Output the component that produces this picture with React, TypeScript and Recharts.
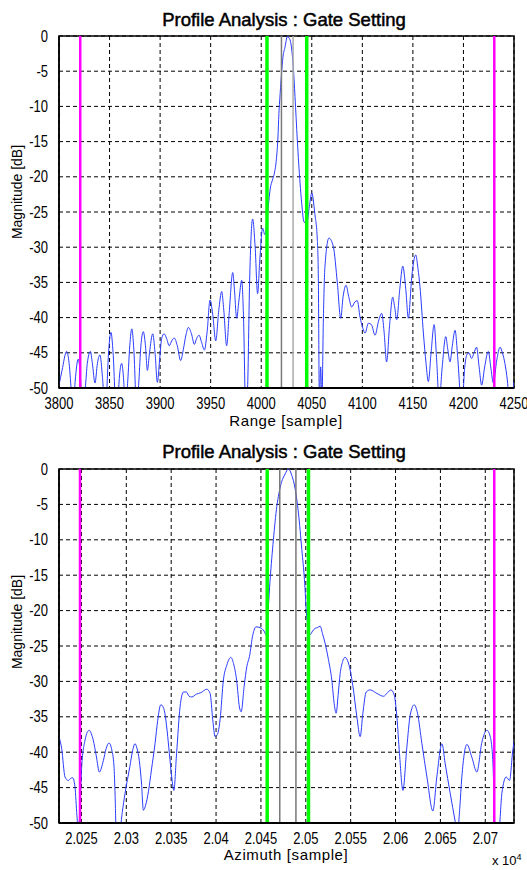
import { LineChart, Line, XAxis, YAxis, CartesianGrid, ReferenceLine, ReferenceArea } from 'recharts'

// range profile (samples, dB)
const rangeX = [
  3800, 3803, 3807.6, 3810, 3812.5, 3814, 3816, 3819, 3821, 3823, 3826, 3828, 3831, 3833, 3835.6, 3838, 3840.5, 3843,
  3845.5, 3847, 3849, 3851.4, 3853.5, 3856.4, 3858.5, 3860, 3862, 3864, 3865.5, 3868, 3870, 3872, 3874, 3876.8, 3879,
  3881, 3883.4, 3885.5, 3887.4, 3889.5, 3892.7, 3895, 3897.3, 3899.5, 3901.5, 3903.9, 3906.5, 3909, 3911.5, 3914, 3917,
  3920.3, 3923, 3925.5, 3928, 3931, 3933.9, 3936, 3938.5, 3941, 3943.8, 3946.5, 3949.4, 3952, 3955, 3958, 3960.9, 3963,
  3965.8, 3968.5, 3971.8, 3973.5, 3975.7, 3978, 3980.7, 3982.5, 3984.6, 3986.5, 3988.5, 3991.5, 3994, 3996.4, 3998.5,
  4001.4, 4003.5, 4005.5, 4007, 4009, 4011, 4013, 4015, 4016.5, 4017.5, 4018.8, 4020, 4021.5, 4023.5, 4025.8, 4027.7,
  4030, 4031.7, 4033.4, 4035.7, 4038.4, 4040, 4042.3, 4045, 4047.6, 4050, 4053, 4055.5, 4056.5, 4057.5, 4058.8, 4060,
  4061.5, 4063, 4067, 4071.3, 4075.3, 4078.6, 4081, 4083.9, 4086.5, 4089.5, 4092.5, 4095, 4097.7, 4100.5, 4102.7, 4106,
  4109, 4112.6, 4116, 4119.2, 4121.5, 4124, 4127, 4130, 4132, 4134, 4137, 4140, 4143, 4145.5, 4149, 4152.8, 4155, 4157,
  4160.4, 4163, 4165.3, 4168, 4171, 4173.5, 4176, 4179, 4182.5, 4184.5, 4186.7, 4189, 4191.7, 4194.5, 4197, 4199, 4201,
  4203.3, 4205.5, 4208, 4210.5, 4213, 4215.5, 4218, 4221, 4224.6, 4227, 4229.6, 4233, 4236.2, 4238.5, 4241, 4243.5,
  4245.4, 4248, 4250,
]
const rangeDb = [
  -49.6, -47.5, -44.8, -46.5, -51, -53, -49, -45.9, -48, -53, -50, -46.5, -44.8, -46.5, -49.3, -46.5, -45.3, -48.5,
  -53, -51, -45, -42.1, -45, -53, -51, -48, -46.5, -49, -53, -49, -44, -41.6, -44.5, -53, -49,
  -44, -42, -44, -47.5, -45, -42.3, -45, -49.2, -46, -43, -42.3, -43, -44, -43.3, -42.9, -44,
  -46.1, -44.5, -42.5, -41.4, -42.3, -43.8, -43, -42.5, -43.5, -44.6, -42, -37.5, -39.5, -43.3, -39, -36.3, -39,
  -44, -39, -33.6, -36, -40.1, -37.5, -34.7, -40, -53, -50, -35, -26, -30, -36.6, -32,
  -27.3, -28.2, -26.5, -24.2, -21.6, -20.5, -19.5, -17.5, -14.5, -11, -8, -5.5, -3, -1.6, -0.1, -0.3,
  -1.7, -4.4, -8.6, -14.8, -20.9, -23.7, -26.4, -26.6, -24.2, -22.3, -25.2, -29, -34.4, -52, -47, -52,
  -40, -32.8, -28.7, -29.9, -35.1, -40.1, -37, -35.4, -37, -38.5, -37.8, -37.6, -39.9, -41.5, -42.2, -40.8,
  -41, -42.5, -40.5, -39.4, -42, -46.3, -41, -37.1, -38.5, -40.3, -36, -32.7, -36, -40.1, -34, -31.1, -33, -35.6,
  -42.2, -46.5, -49.1, -45, -41, -46, -52, -47, -42.7, -44.5, -46.3, -44, -41.8, -46, -51, -52, -47.5,
  -45.3, -45, -45.8, -45, -44.2, -47, -49.6, -47, -44.8, -47, -49.3, -46, -44.2, -45, -46.5, -49,
  -52, -52, -49.1,
]
const rangeTicks = [3800, 3850, 3900, 3950, 4000, 4050, 4100, 4150, 4200, 4250]
const rangeMagenta = [3821, 4230.5]
const rangeGreen = [4005.7, 4045]
const rangeGray = [4020, 4031.5]

// azimuth profile (samples, dB)
const azX = [
  20225, 20228, 20231.7, 20235.4, 20238, 20240.3, 20242.8, 20245, 20246.5, 20248, 20250.3, 20254, 20256.5, 20258.8,
  20261, 20263.2, 20266.5, 20270, 20274.4, 20277.5, 20280.7, 20283.5, 20286.3, 20287.5, 20288.5, 20291, 20293, 20295.5,
  20298.6, 20304, 20307, 20309.7, 20312, 20314.5, 20317, 20319, 20321.5, 20324.6, 20328, 20332, 20335, 20338.4, 20340.5,
  20343, 20345.5, 20348, 20350.6, 20353, 20356, 20359.9, 20363.6, 20367, 20370, 20373, 20378, 20383, 20389.7, 20393.4,
  20396.3, 20398.9, 20401.5, 20404.5, 20408.2, 20412, 20416.4, 20419.5, 20423, 20426, 20428, 20431.3, 20434.3, 20437.2,
  20441, 20444.6, 20449, 20453.5, 20455.8, 20458, 20460.2, 20463.9, 20467.7, 20470, 20472.2, 20477, 20480.6, 20484.4,
  20488, 20491.8, 20495.6, 20498.5, 20501, 20502.8, 20504.8, 20507.5, 20510.4, 20513, 20516, 20518.5, 20521.5, 20525.2,
  20529, 20531.6, 20533.8, 20536, 20538.3, 20541, 20543.8, 20547.5, 20552.4, 20556.9, 20560.6, 20563.6, 20567.3,
  20571.7, 20579.2, 20586.6, 20591, 20594.8, 20598.5, 20601.5, 20604.4, 20608.2, 20612.6, 20616.3, 20620.8, 20624.5,
  20629.4, 20635, 20641.6, 20646, 20651.7, 20655.3, 20660.9, 20666.5, 20669, 20671.5, 20673.9, 20679.5, 20685, 20690.6,
  20696.2, 20701.8, 20705.5, 20708.5, 20711, 20714.8, 20718.5, 20723.3, 20727, 20730.8, 20733,
]
const azDb = [
  -37.8, -39.5, -43.5, -44, -43.7, -43.6, -44.9, -49, -51, -49, -42, -38.3, -37.2, -36.9,
  -37.4, -38.3, -40.5, -42.8, -41.2, -39.5, -38.7, -39.5, -42, -46, -50.5, -51.5, -51, -48.5,
  -45.8, -42, -39.8, -38.8, -39.5, -41.2, -44.5, -48.2, -47.5, -45.6, -42.5, -38.8, -35.5, -33.3, -33.5,
  -34.5, -37, -40.2, -43.5, -45.4, -40.2, -33.6, -31.5, -31.5, -32.1, -32.2, -31.8, -31.6, -31.1, -31.7,
  -35.4, -37.8, -37.5, -35.4, -29.8, -27.7, -26.6, -27.5, -29.9, -33.6, -34.3, -30.7, -27.9, -26.5,
  -23.4, -22.3, -22.4, -22.9, -23.4, -20, -15.7, -10, -5.3, -3.5, -2.2, -0.7, 0, -0.9,
  -2.7, -6.2, -11.4, -15.6, -20.8, -22.5, -23.4, -22.9, -22.5, -22.4, -22.2, -23.2, -24.6, -26.9,
  -29.8, -33.1, -34.5, -32, -28.9, -27.2, -26.6, -27.4, -30.6, -35, -37.8, -34.5, -31.5,
  -31.2, -31.7, -32.1, -31.6, -31.2, -31.9, -35, -40.2, -45.4, -39.3, -34.8, -33.3, -34.5,
  -38.8, -43.5, -48.3, -43.5, -38.8, -41.6, -45.8, -49.8, -51.5, -48, -43.5, -38.9, -40.7, -42.8,
  -38.6, -36.9, -37.8, -41.5, -51, -51.5, -45.8, -43.5, -44, -39.6, -38,
]
const azTicks = [20250, 20300, 20350, 20400, 20450, 20500, 20550, 20600, 20650, 20700]
const azMagenta = [20248.4, 20710]
const azGreen = [20457, 20503]
const azGray = [20471, 20489]

const dbTicks = [0, -5, -10, -15, -20, -25, -30, -35, -40, -45, -50]

const FONT = '"Liberation Sans", Arial, Helvetica, sans-serif'

// tick text, a little taller than wide like the original export
function XTick(props: any) {
  const { x, y, payload, fmt } = props
  const label = fmt ? fmt(payload.value) : String(payload.value)
  return (
    <g transform={`translate(${x},${y}) scale(1,1.2)`}>
      <text x={0} y={0} dy="0.71em" textAnchor="middle" fontSize={13} fill="#000" fontFamily={FONT}>{label}</text>
    </g>
  )
}

function YTick(props: any) {
  const { x, y, payload } = props
  return (
    <g transform={`translate(${x},${y}) scale(1,1.2)`}>
      <text x={0} y={0} dy="0.355em" textAnchor="end" fontSize={13} fill="#000" fontFamily={FONT}>{payload.value}</text>
    </g>
  )
}

type PanelProps = {
  xs: number[]
  ys: number[]
  domain: [number, number]
  ticks: number[]
  magenta: number[]
  green: number[]
  gray: number[]
  grayColors: string[]
  marginTop: number
  fmt?: (v: number) => string
}

function Panel({ xs, ys, domain, ticks, magenta, green, gray, grayColors, marginTop, fmt }: PanelProps) {
  const data = xs.map((x, i) => ({ x, db: ys[i] }))
  return (
    <LineChart width={527} height={435} data={data} margin={{ top: marginTop, right: 13, bottom: 0, left: 0 }}>
      <CartesianGrid stroke="#000" strokeDasharray="4 3" />
      <XAxis
        type="number"
        dataKey="x"
        domain={domain}
        ticks={ticks}
        allowDataOverflow
        height={47}
        tickLine={false}
        tickMargin={4}
        tick={(p: any) => <XTick {...p} fmt={fmt} />}
        axisLine={{ stroke: '#000', strokeWidth: 2 }}
        interval={0}
      />
      <YAxis
        type="number"
        domain={[-50, 0]}
        ticks={dbTicks}
        allowDataOverflow
        width={59}
        tickLine={false}
        tickMargin={5}
        tick={(p: any) => <YTick {...p} />}
        axisLine={{ stroke: '#000', strokeWidth: 1.5 }}
        interval={0}
      />
      <Line
        type="monotone"
        dataKey="db"
        stroke="#2a3cff"
        strokeWidth={1}
        dot={false}
        isAnimationActive={false}
      />
      {gray.map((g, i) => (
        <ReferenceLine key={'g' + i} x={g} stroke={grayColors[i]} strokeWidth={1.5} />
      ))}
      {green.map((g, i) => (
        <ReferenceLine key={'n' + i} x={g} stroke="#00ff00" strokeWidth={3.5} />
      ))}
      {magenta.map((m, i) => (
        <ReferenceLine key={'m' + i} x={m} stroke="#ff00ff" strokeWidth={2.5} />
      ))}
      <ReferenceArea x1={domain[0]} x2={domain[1]} y1={-50} y2={0} fill="none" stroke="#000" strokeWidth={1.5} />
    </LineChart>
  )
}

const azFmt = (v: number) => String(parseFloat((v / 10000).toFixed(4)))

function Title({ y }: { y: number }) {
  return (
    <div style={{ position: 'absolute', left: 0, width: 568, top: y - 11, height: 22, lineHeight: '22px', textAlign: 'center', fontSize: 18.5, fontFamily: FONT, color: '#000', WebkitTextStroke: '0.5px #000' }}>
      Profile Analysis : Gate Setting
    </div>
  )
}

function YLabel({ y }: { y: number }) {
  return (
    <div style={{ position: 'absolute', left: 17, top: y, transform: 'translate(-50%, -50%) rotate(-90deg)', whiteSpace: 'nowrap', fontSize: 14, lineHeight: '15px', fontFamily: FONT, color: '#000' }}>
      Magnitude [dB]
    </div>
  )
}

function XLabel({ y, text }: { y: number, text: string }) {
  return (
    <div style={{ position: 'absolute', left: 0, width: 572, top: y - 8, height: 16, lineHeight: '16px', textAlign: 'center', fontSize: 15, letterSpacing: 0.6, fontFamily: FONT, color: '#000' }}>
      {text}
    </div>
  )
}

export default function App() {
  return (
    <div style={{ position: 'absolute', left: 0, top: 0, width: 527, height: 870, background: '#fff', overflow: 'hidden' }}>
      <div style={{ position: 'absolute', left: 0, top: 0 }}>
        <Panel
          xs={rangeX}
          ys={rangeDb}
          domain={[3800, 4250]}
          ticks={rangeTicks}
          magenta={rangeMagenta}
          green={rangeGreen}
          gray={rangeGray}
          grayColors={['#7a7a7a', '#aaaaaa']}
          marginTop={36}
        />
      </div>
      <div style={{ position: 'absolute', left: 0, top: 435 }}>
        <Panel
          xs={azX}
          ys={azDb}
          domain={[20225, 20732]}
          ticks={azTicks}
          magenta={azMagenta}
          green={azGreen}
          gray={azGray}
          grayColors={['#777777', '#777777']}
          marginTop={34}
          fmt={azFmt}
        />
      </div>
      <Title y={20} />
      <Title y={452} />
      <YLabel y={192} />
      <YLabel y={622} />
      <XLabel y={421} text="Range [sample]" />
      <XLabel y={855} text="Azimuth [sample]" />
      <div style={{ position: 'absolute', left: 492, top: 853, fontSize: 13, lineHeight: '15px', fontFamily: FONT, color: '#000', whiteSpace: 'nowrap' }}>
        x 10<sup style={{ fontSize: 9, verticalAlign: 'super', lineHeight: 0 }}>4</sup>
      </div>
    </div>
  )
}
